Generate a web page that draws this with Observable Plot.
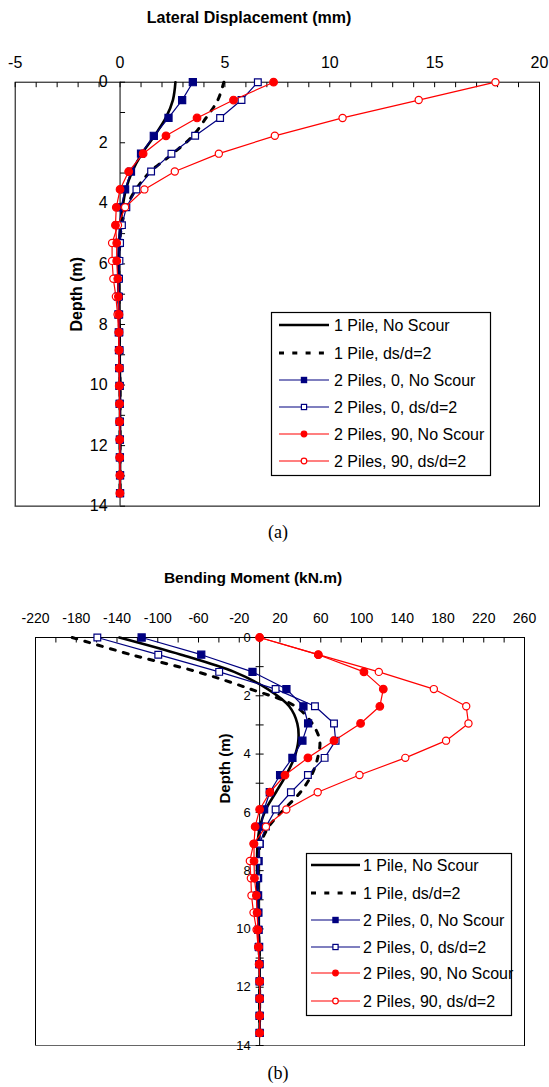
<!DOCTYPE html>
<html><head><meta charset="utf-8">
<script src="https://cdn.jsdelivr.net/npm/d3@7"></script>
<script src="https://cdn.jsdelivr.net/npm/@observablehq/plot@0.6"></script>
<style>
body{margin:0;background:#fff;}
#root{position:relative;width:549px;height:1087px;overflow:hidden;font-family:"Liberation Sans",Arial,sans-serif;background:#fff;}
.title{position:absolute;font-weight:bold;white-space:nowrap;transform:translate(-50%,-50%);color:#000;}
.cap{position:absolute;font-family:"Liberation Serif","Times New Roman",serif;transform:translate(-50%,-50%);white-space:nowrap;}
</style></head><body><div id="root"></div>
<script>
// ---------- data ----------
const seriesNames = ["1 Pile, No Scour", "1 Pile, ds/d=2", "2 Piles, 0, No Scour", "2 Piles, 0, ds/d=2", "2 Piles, 90, No Scour", "2 Piles, 90, ds/d=2"];
const depth = [0, 0.59, 1.18, 1.77, 2.36, 2.95, 3.54, 4.13, 4.72, 5.31, 5.9, 6.49, 7.08, 7.67, 8.26, 8.85, 9.44, 10.03, 10.62, 11.21, 11.8, 12.39, 12.98, 13.57];

// (a) lateral displacement (mm)
const dispOnePileNoScour = [2.64, 2.52, 2.18, 1.64, 1.04, 0.58, 0.28, 0.12, 0.02, -0.04, -0.06, -0.06, -0.05, -0.04, -0.03, -0.02, -0.01, 0, 0, 0, 0, 0, 0, 0];
const dispOnePileScour   = [4.95, 4.66, 4.1, 3.47, 2.51, 1.45, 0.76, 0.3, 0.08, -0.02, -0.05, -0.06, -0.05, -0.04, -0.03, -0.02, -0.01, 0, 0, 0, 0, 0, 0, 0];
const dispTwo0NoScour    = [3.47, 2.96, 2.31, 1.61, 1.0, 0.52, 0.24, 0.05, -0.02, -0.08, -0.12, -0.12, -0.1, -0.08, -0.06, -0.05, -0.04, -0.03, -0.02, -0.02, -0.01, -0.01, 0, 0];
const dispTwo0Scour      = [6.57, 5.79, 4.77, 3.58, 2.45, 1.48, 0.78, 0.3, 0.09, 0, -0.03, -0.05, -0.05, -0.04, -0.03, -0.02, -0.02, -0.01, -0.01, 0, 0, 0, 0, 0];
const dispTwo90NoScour   = [7.32, 5.41, 3.67, 2.19, 1.1, 0.41, 0, -0.18, -0.22, -0.16, -0.16, -0.11, -0.08, -0.05, -0.05, -0.05, -0.04, -0.04, -0.03, -0.03, -0.02, -0.02, -0.01, -0.01];
const dispTwo90Scour     = [17.9, 14.24, 10.61, 7.38, 4.71, 2.61, 1.16, 0.24, -0.1, -0.38, -0.38, -0.32, -0.2, -0.12, -0.07, -0.05, -0.04, -0.03, -0.02, -0.02, -0.01, -0.01, 0, 0];

// (b) bending moment (kN.m)
const momOnePileNoScour = [-137.7, -77, -25, 8, 29, 37, 38, 34, 26, 16, 6, 0.3, -2, -2.5, -2.5, -2, -1.5, -1, -0.5, 0, 0, 0, 0, 0];
const momOnePileScour   = [-184, -126, -61, -9, 35, 51.6, 59, 57, 51, 40, 24, 9, 1, -1.5, -2, -2, -1.5, -1, -0.5, 0, 0, 0, 0, 0];
const momTwo0NoScour    = [-115.8, -57.3, -7, 26.3, 43, 47.6, 42, 32.2, 20.1, 10, 4.4, 1.4, 0, -1, -1.5, -1.5, -1.2, -1, -0.5, 0, 0, 0, 0, 0];
const momTwo0Scour      = [-159.3, -99.5, -39.7, 15.7, 54.3, 73, 74.6, 63.8, 47.4, 30.7, 15.7, 6.2, 0, -2, -2.5, -2.5, -2, -1.5, -1, -0.5, 0, 0, 0, 0];
const momTwo90NoScour   = [0, 57.6, 102.4, 121.4, 118, 99.1, 73, 47.4, 24.9, 10.1, 0, -4.4, -5.5, -5.5, -5.1, -3.2, -2.5, -1.6, -1, -0.5, 0, 0, 0, 0];
const momTwo90Scour     = [0, 57.6, 117, 171, 202.8, 205, 183, 143, 98, 57, 26.2, 6.2, -6, -9.6, -8.6, -8, -6, -3, -1.5, -0.5, 0, 0, 0, 0];

// ticks
const xLabelsA = [-5, 0, 5, 10, 15, 20];
const xTicksA = d3.range(-5, 21, 1);
const yLabels = [0, 2, 4, 6, 8, 10, 12, 14];
const yTicks = d3.range(0, 15, 1);
const xLabelsB = [-220, -180, -140, -100, -60, -20, 20, 60, 100, 140, 180, 220, 260];
const xTicksB = d3.range(-220, 261, 20);

// ---------- styles ----------
const NAVY = "#000080", RED = "#FF0000";
const styles = [
  {stroke: "#000", width: 2.6, dash: null, curve: "catmull-rom"},
  {stroke: "#000", width: 3, dash: "5,8.3", curve: "catmull-rom"},
  {stroke: NAVY, width: 1.2, symbol: "square", fill: NAVY, r: 4},
  {stroke: NAVY, width: 1.2, symbol: "square", fill: "#fff", r: 3.8},
  {stroke: RED, width: 1.2, symbol: "circle", fill: RED, r: 3.8},
  {stroke: RED, width: 1.2, symbol: "circle", fill: "#fff", r: 3.6}
];
const drawOrder = [0, 1, 2, 3, 5, 4];

const tickDown = {draw(ctx) { ctx.moveTo(0, 0); ctx.lineTo(0, 5); }};
const tickRight = {draw(ctx) { ctx.moveTo(0, 0); ctx.lineTo(5, 0); }};
const tickCross = {draw(ctx) { ctx.moveTo(-4, 0); ctx.lineTo(4, 0); }};

const root = document.getElementById("root");

function panel(cfg) {
  const rows = cfg.series.map(vals => vals.map((v, i) => ({depth: depth[i], value: v})));
  const marks = [
    Plot.frame({stroke: "#000"}),
    Plot.ruleY([cfg.yDomain[1]], {stroke: "#666"}),
    Plot.dot(cfg.xTicks, {x: d => d, frameAnchor: "top", symbol: tickDown, fill: "none", stroke: "#000", strokeWidth: 1}),
    Plot.text(cfg.xLabels, {x: d => d, frameAnchor: "top", dy: cfg.xLabelDy, text: d => String(d), fontSize: cfg.xFont, fill: "#000"}),
    Plot.ruleX([0], {stroke: "#000"}),
    Plot.dot(yTicks, {x: () => 0, y: d => d, symbol: cfg.yTickSym, fill: "none", stroke: "#000", strokeWidth: 1}),
    Plot.text(yLabels, {x: () => 0, y: d => d, text: d => String(d), textAnchor: "end", dx: cfg.yLabelDx, fontSize: cfg.yFont, fill: "#000"}),
    Plot.text(["Depth (m)"], {x: () => 0, frameAnchor: "middle", dx: cfg.depthDx, dy: cfg.depthDy, text: d => d, rotate: -90, fontWeight: "bold", fontSize: cfg.depthFont, fill: "#000"})
  ];
  for (const k of drawOrder) {
    const s = styles[k];
    marks.push(Plot.line(rows[k], {x: "value", y: "depth", stroke: s.stroke, strokeWidth: s.width,
      strokeDasharray: s.dash || undefined, curve: s.curve || "linear", strokeLinejoin: "round"}));
    if (s.symbol) {
      marks.push(Plot.dot(rows[k], {x: "value", y: "depth", symbol: s.symbol, r: s.r, fill: s.fill, stroke: s.stroke, strokeWidth: 1.2}));
    }
  }
  const svg = Plot.plot({
    width: 549, height: cfg.height,
    marginTop: cfg.mt, marginRight: cfg.mr, marginBottom: cfg.mb, marginLeft: cfg.ml,
    x: {domain: cfg.xDomain, axis: null},
    y: {domain: cfg.yDomain, reverse: true, axis: null},
    style: {fontFamily: '"Liberation Sans", Arial, sans-serif', fontSize: "15px", background: "transparent", overflow: "visible"},
    marks
  });
  svg.style.position = "absolute";
  svg.style.left = "0px";
  svg.style.top = cfg.top + "px";
  root.appendChild(svg);
}

function legend(cfg) {
  const svg = d3.create("svg").attr("width", cfg.w).attr("height", cfg.h)
    .style("position", "absolute").style("left", cfg.x + "px").style("top", cfg.y + "px").style("overflow", "visible");
  svg.append("rect").attr("x", 0.5).attr("y", 0.5).attr("width", cfg.w - 1).attr("height", cfg.h - 1)
    .attr("fill", "#fff").attr("stroke", "#000").attr("stroke-width", 1.2);
  seriesNames.forEach((name, i) => {
    const s = styles[i], cy = cfg.rows[i];
    svg.append("line").attr("x1", cfg.lx1).attr("x2", cfg.lx2).attr("y1", cy).attr("y2", cy)
      .attr("stroke", s.stroke).attr("stroke-width", s.width).attr("stroke-dasharray", s.dash);
    const mx = (cfg.lx1 + cfg.lx2) / 2;
    if (s.symbol === "square") {
      svg.append("rect").attr("x", mx - 2.6).attr("y", cy - 2.6).attr("width", 5.2).attr("height", 5.2)
        .attr("fill", s.fill).attr("stroke", s.stroke).attr("stroke-width", 1.2);
    } else if (s.symbol === "circle") {
      svg.append("circle").attr("cx", mx).attr("cy", cy).attr("r", 2.8)
        .attr("fill", s.fill).attr("stroke", s.stroke).attr("stroke-width", 1.2);
    }
    svg.append("text").attr("x", cfg.tx).attr("y", cy).attr("dominant-baseline", "central")
      .attr("font-family", '"Liberation Sans", Arial, sans-serif').attr("font-size", cfg.font).attr("fill", "#000").text(name);
  });
  root.appendChild(svg.node());
}

function addDiv(cls, text, x, y, size) {
  const d = document.createElement("div");
  d.className = cls; d.textContent = text;
  d.style.left = x + "px"; d.style.top = y + "px"; d.style.fontSize = size + "px";
  root.appendChild(d);
}

// ---------- panel (a) ----------
addDiv("title", "Lateral Displacement (mm)", 249, 18, 16);
panel({
  top: 0, height: 520, mt: 81.7, mr: 10, mb: 14.3, ml: 14.7,
  xDomain: [-5, 20], yDomain: [0, 14],
  series: [dispOnePileNoScour, dispOnePileScour, dispTwo0NoScour, dispTwo0Scour, dispTwo90NoScour, dispTwo90Scour],
  xTicks: xTicksA, xLabels: xLabelsA, xLabelDy: -25.5, xFont: 16,
  yTickSym: tickRight, yLabelDx: -12.5, yFont: 16,
  depthDx: -43.5, depthDy: 0, depthFont: 16
});
legend({x: 271, y: 312, w: 220, h: 164, rows: [13, 41, 68, 95, 122, 149], lx1: 8, lx2: 58, tx: 63, font: 16});
addDiv("cap", "(a)", 278, 532, 18);

// ---------- panel (b) ----------
addDiv("title", "Bending Moment (kN.m)", 253, 578, 15.5);
panel({
  top: 560, height: 500, mt: 77, mr: 25, mb: 15, ml: 35,
  xDomain: [-220, 260], yDomain: [0, 14],
  series: [momOnePileNoScour, momOnePileScour, momTwo0NoScour, momTwo0Scour, momTwo90NoScour, momTwo90Scour],
  xTicks: xTicksB, xLabels: xLabelsB, xLabelDy: -24, xFont: 14,
  yTickSym: tickCross, yLabelDx: -9, yFont: 13,
  depthDx: -34, depthDy: -73, depthFont: 15
});
legend({x: 306, y: 853, w: 206, h: 163, rows: [12, 40, 67, 94, 120, 148], lx1: 5, lx2: 54, tx: 57, font: 16});
addDiv("cap", "(b)", 278, 1073, 18);
</script>
</body></html>
